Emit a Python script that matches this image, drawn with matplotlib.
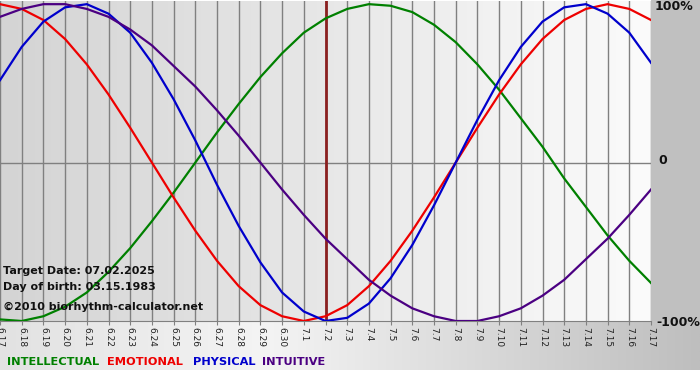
import matplotlib.pyplot as plt
import numpy as np
from matplotlib.colors import LinearSegmentedColormap

# day labels 6.17 .. 7.17
days = ['6.17', '6.18', '6.19', '6.20', '6.21', '6.22', '6.23', '6.24', '6.25', '6.26',
        '6.27', '6.28', '6.29', '6.30', '7.1', '7.2', '7.3', '7.4', '7.5', '7.6',
        '7.7', '7.8', '7.9', '7.10', '7.11', '7.12', '7.13', '7.14', '7.15', '7.16', '7.17']
target_day = '7.2'

# values (-1 .. 1)
intellectual = [-0.99, -1.00, -0.97, -0.91, -0.82, -0.69, -0.54, -0.37, -0.19,
                0.00, 0.19, 0.37, 0.54, 0.69, 0.82, 0.91, 0.97, 1.00, 0.99, 0.95,
                0.87, 0.76, 0.62, 0.46, 0.28, 0.10, -0.10, -0.28, -0.46, -0.62, -0.76]
emotional = [1.00, 0.97, 0.90, 0.78, 0.62, 0.43, 0.22, 0.00, -0.22, -0.43,
             -0.62, -0.78, -0.90, -0.97, -1.00, -0.97, -0.90, -0.78, -0.62, -0.43,
             -0.22, 0.00, 0.22, 0.43, 0.62, 0.78, 0.90, 0.97, 1.00, 0.97, 0.90]
physical = [0.52, 0.73, 0.89, 0.98, 1.00, 0.94, 0.82, 0.63, 0.40, 0.14,
            -0.14, -0.40, -0.63, -0.82, -0.94, -1.00, -0.98, -0.89, -0.73, -0.52,
            -0.27, 0.00, 0.27, 0.52, 0.73, 0.89, 0.98, 1.00, 0.94, 0.82, 0.63]
intuitive = [0.92, 0.97, 1.00, 1.00, 0.97, 0.92, 0.84, 0.74, 0.61, 0.48,
             0.33, 0.17, 0.00, -0.17, -0.33, -0.48, -0.61, -0.74, -0.84, -0.92,
             -0.97, -1.00, -1.00, -0.97, -0.92, -0.84, -0.74, -0.61, -0.48, -0.33, -0.17]

series = [('INTELLECTUAL', intellectual, '#008000'),
          ('EMOTIONAL', emotional, '#ee0000'),
          ('PHYSICAL', physical, '#0000cc'),
          ('INTUITIVE', intuitive, '#4b0082')]

W, H = 700, 380
fig = plt.figure(figsize=(7, 3.8), dpi=100, facecolor='white')

# background in pixel coords
bg = fig.add_axes([0, 0, 1, 1])
bg.set_xlim(0, W)
bg.set_ylim(H, 0)
bg.axis('off')
strip = LinearSegmentedColormap.from_list('strip', [(0, '#e2e2e2'), (0.38, '#f4f4f4'), (1, '#bebebe')])
bg.imshow(np.linspace(0, 1, 256)[None, :], cmap=strip, aspect='auto', extent=(0, W, 370, 321))
bg.add_patch(plt.Rectangle((651, 0), 49, 321, color='#c0c0c0', lw=0))

# plot area
ax = fig.add_axes([0, 1 - 321 / H, 651 / W, 320 / H])
area = LinearSegmentedColormap.from_list('area', ['#d4d4d4', '#fbfbfb'])
ax.imshow(np.linspace(0, 1, 256)[None, :], cmap=area, aspect='auto',
          extent=(0, 1, 0, 1), transform=ax.transAxes, zorder=0)
x = np.arange(len(days))
ax.set_xlim(0, len(days) - 1)
ax.set_ylim(-1.0, 1.02)

for xi in x:
    ax.axvline(xi, color='#808080', lw=1, zorder=1)
ax.axhline(0, color='#808080', lw=1, zorder=1)

for name, vals, col in series:
    ax.plot(x, vals, color=col, lw=1.6, zorder=3, solid_joinstyle='round')

ax.axvline(days.index(target_day), color='#8b2020', lw=2, zorder=2)

for s in ['top', 'left', 'right']:
    ax.spines[s].set_visible(False)
ax.spines['bottom'].set_color('#808080')
ax.set_yticks([])
ax.set_xticks(x)
ax.set_xticklabels(days, rotation=-90, fontsize=6.5, color='#222222')
ax.tick_params(axis='x', length=3, color='#808080', pad=1)

ax.text(0.004, 0.156, 'Target Date: 07.02.2025', transform=ax.transAxes, fontsize=8,
        fontweight='bold', color='#111111', va='center', zorder=4)
ax.text(0.004, 0.106, 'Day of birth: 03.15.1983', transform=ax.transAxes, fontsize=8,
        fontweight='bold', color='#111111', va='center', zorder=4)
ax.text(0.004, 0.044, '\u00a92010 biorhythm-calculator.net', transform=ax.transAxes, fontsize=8,
        fontweight='bold', color='#111111', va='center', zorder=4)

# right labels
bg.text(655, 7, '100%', fontsize=9, fontweight='bold', color='#111111', va='center')
bg.text(658, 161, '0', fontsize=9, fontweight='bold', color='#111111', va='center')
bg.text(656, 322, '-100%', fontsize=9, fontweight='bold', color='#111111', va='center')

# legend
leg_x = [7, 107, 193, 262]
for (name, vals, col), lx in zip(series, leg_x):
    bg.text(lx, 362, name, fontsize=8.2, color=col, va='center', fontweight='bold')

plt.savefig('out.png', dpi=100, facecolor=fig.get_facecolor())
